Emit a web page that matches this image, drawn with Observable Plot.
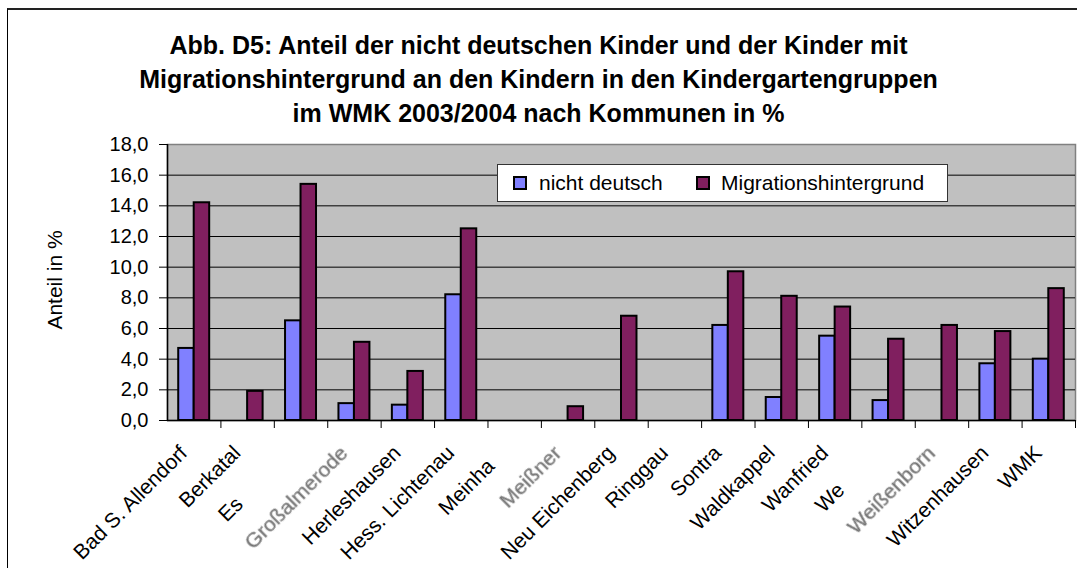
<!DOCTYPE html>
<html>
<head>
<meta charset="utf-8">
<script src="https://cdn.jsdelivr.net/npm/d3@7"></script>
<script src="https://cdn.jsdelivr.net/npm/@observablehq/plot@0.6"></script>
<style>
  html, body { margin: 0; padding: 0; background: #fff; }
  body { font-family: "Liberation Sans", Arial, sans-serif; }
  #wrap { position: relative; width: 1077px; height: 568px; overflow: hidden; }
  #frame { position: absolute; left: 7px; top: 8px; width: 1100px; height: 600px;
           border-left: 1.5px solid #000; border-top: 2px solid #222; box-sizing: border-box; }
  #title { position: absolute; left: 0; top: 28px; width: 1077px; text-align: center;
           font-weight: bold; font-size: 25px; line-height: 34px; color: #000; }
  #chart { position: absolute; left: 0; top: 0; }
  #ylabel { position: absolute; left: 55px; top: 280px; transform: translate(-50%, -50%) rotate(-90deg);
            font-size: 21px; white-space: nowrap; color: #000; }
  #legend { position: absolute; left: 497px; top: 164px; width: 451px; height: 38px; box-sizing: border-box;
            background: #fff; border: 1.5px solid #333; font-size: 21px; color: #000; }
  .item { position: absolute; top: 0; height: 35px; line-height: 35px; white-space: nowrap; }
  .sw { position: absolute; top: 11px; width: 14px; height: 14px; box-sizing: border-box; border: 2px solid #000; }
</style>
</head>
<body>
<div id="wrap">
  <div id="frame"></div>
  <div id="chart"></div>
  <div id="title">Abb. D5: Anteil der nicht deutschen Kinder und der Kinder mit<br>Migrationshintergrund an den Kindern in den Kindergartengruppen<br>im WMK 2003/2004 nach Kommunen in %</div>
  <div id="ylabel">Anteil in %</div>
  <div id="legend"></div>
</div>
<script>
// ---- data ----
const categories = ["Bad S. Allendorf", "Berkatal", "Eschwege", "Großalmerode", "Herleshausen",
  "Hess. Lichtenau", "Meinhard", "Meißner", "Neu Eichenberg", "Ringgau", "Sontra", "Waldkappel",
  "Wanfried", "Wehretal", "Weißenborn", "Witzenhausen", "WMK"];
// visible (partly clipped in the original) tick labels
const tickLabels = ["Bad S. Allendorf", "Berkatal", "Es", "Großalmerode", "Herleshausen",
  "Hess. Lichtenau", "Meinha", "Meißner", "Neu Eichenberg", "Ringgau", "Sontra", "Waldkappel",
  "Wanfried", "We", "Weißenborn", "Witzenhausen", "WMK"];
const greyLabels = ["Großalmerode", "Meißner", "Weißenborn"];
const seriesNames = ["nicht deutsch", "Migrationshintergrund"];
const nichtDeutsch = [4.7, null, 6.5, 1.1, 1.0, 8.2, null, null, null, null, 6.2, 1.5, 5.5, 1.3, null, 3.7, 4.0];
const migration = [14.2, 1.9, 15.4, 5.1, 3.2, 12.5, null, 0.9, 6.8, null, 9.7, 8.1, 7.4, 5.3, 6.2, 5.8, 8.6];
const yTicks = [0, 2, 4, 6, 8, 10, 12, 14, 16, 18];
const colors = ["#8080FF", "#801F5F"];

// ---- layout ----
const W = 1077, H = 568, mL = 167, mR = 2, mT = 144, mB = 148;
const padInner = 0.42;
const step = (W - mL - mR) / categories.length;
const bw = step * (1 - padInner);

const blueData = categories.map((c, i) => ({cat: c, v: nichtDeutsch[i]})).filter(d => d.v != null);
const purpleData = categories.map((c, i) => ({cat: c, v: migration[i]})).filter(d => d.v != null);
const fmt = d => d.toFixed(1).replace(".", ",");

const chart = Plot.plot({
  width: W, height: H,
  marginLeft: mL, marginRight: mR, marginTop: mT, marginBottom: mB,
  style: {fontFamily: "'Liberation Sans', Arial, sans-serif", fontSize: "20px", color: "#000", background: "transparent", overflow: "visible"},
  x: {domain: categories, paddingInner: padInner, paddingOuter: padInner / 2, round: false, axis: null},
  y: {domain: [0, 18], axis: null},
  marks: [
    Plot.frame({fill: "#C0C0C0", stroke: "#808080", strokeWidth: 1.5}),
    Plot.ruleY(yTicks.filter(t => t > 0 && t < 18), {stroke: "#000", strokeWidth: 1}),
    Plot.barY(blueData, {x: "cat", y: "v", fill: colors[0], stroke: "#000", strokeWidth: 2, insetRight: bw / 2}),
    Plot.barY(purpleData, {x: "cat", y: "v", fill: colors[1], stroke: "#000", strokeWidth: 2, insetLeft: bw / 2}),
    Plot.ruleY([0], {stroke: "#000", strokeWidth: 1.5}),
    Plot.ruleX([categories[0]], {dx: -step / 2, stroke: "#000", strokeWidth: 1.5}),
    Plot.axisY({ticks: yTicks, tickSize: 8, tickPadding: 11, tickFormat: fmt, fontSize: 20, label: null}),
    Plot.axisX({tickSize: 8, tickFormat: () => "", dx: step / 2, label: null}),
    Plot.axisX({tickSize: 0, tickRotate: -45, tickPadding: 29, dx: -10.5, fontSize: 21, label: null, tickFormat: d => d})
  ]
});
document.getElementById("chart").appendChild(chart);

// label styling: grey (blurred) labels and clipped labels
d3.select(chart).selectAll("text").each(function() {
  const t = this.textContent;
  const i = categories.indexOf(t);
  if (i < 0) return;
  if (greyLabels.includes(t)) {
    this.setAttribute("fill", "#6e6e6e");
    this.setAttribute("stroke", "#9a9a9a");
    this.setAttribute("stroke-width", "0.6");
    this.style.filter = "blur(0.7px)";
  }
  const vis = tickLabels[i];
  if (vis !== t) {
    this.textContent = "";
    const a = document.createElementNS("http://www.w3.org/2000/svg", "tspan");
    a.textContent = vis;
    const b = document.createElementNS("http://www.w3.org/2000/svg", "tspan");
    b.textContent = t.slice(vis.length);
    b.setAttribute("fill-opacity", "0");
    this.appendChild(a); this.appendChild(b);
  }
});

// legend
const lg = document.getElementById("legend");
const pos = [[15, 41], [198, 223]];
seriesNames.forEach((s, i) => {
  const sw = document.createElement("div");
  sw.className = "sw"; sw.style.left = pos[i][0] + "px"; sw.style.background = colors[i];
  lg.appendChild(sw);
  const it = document.createElement("div");
  it.className = "item"; it.style.left = pos[i][1] + "px"; it.textContent = s;
  lg.appendChild(it);
});
</script>
</body>
</html>
